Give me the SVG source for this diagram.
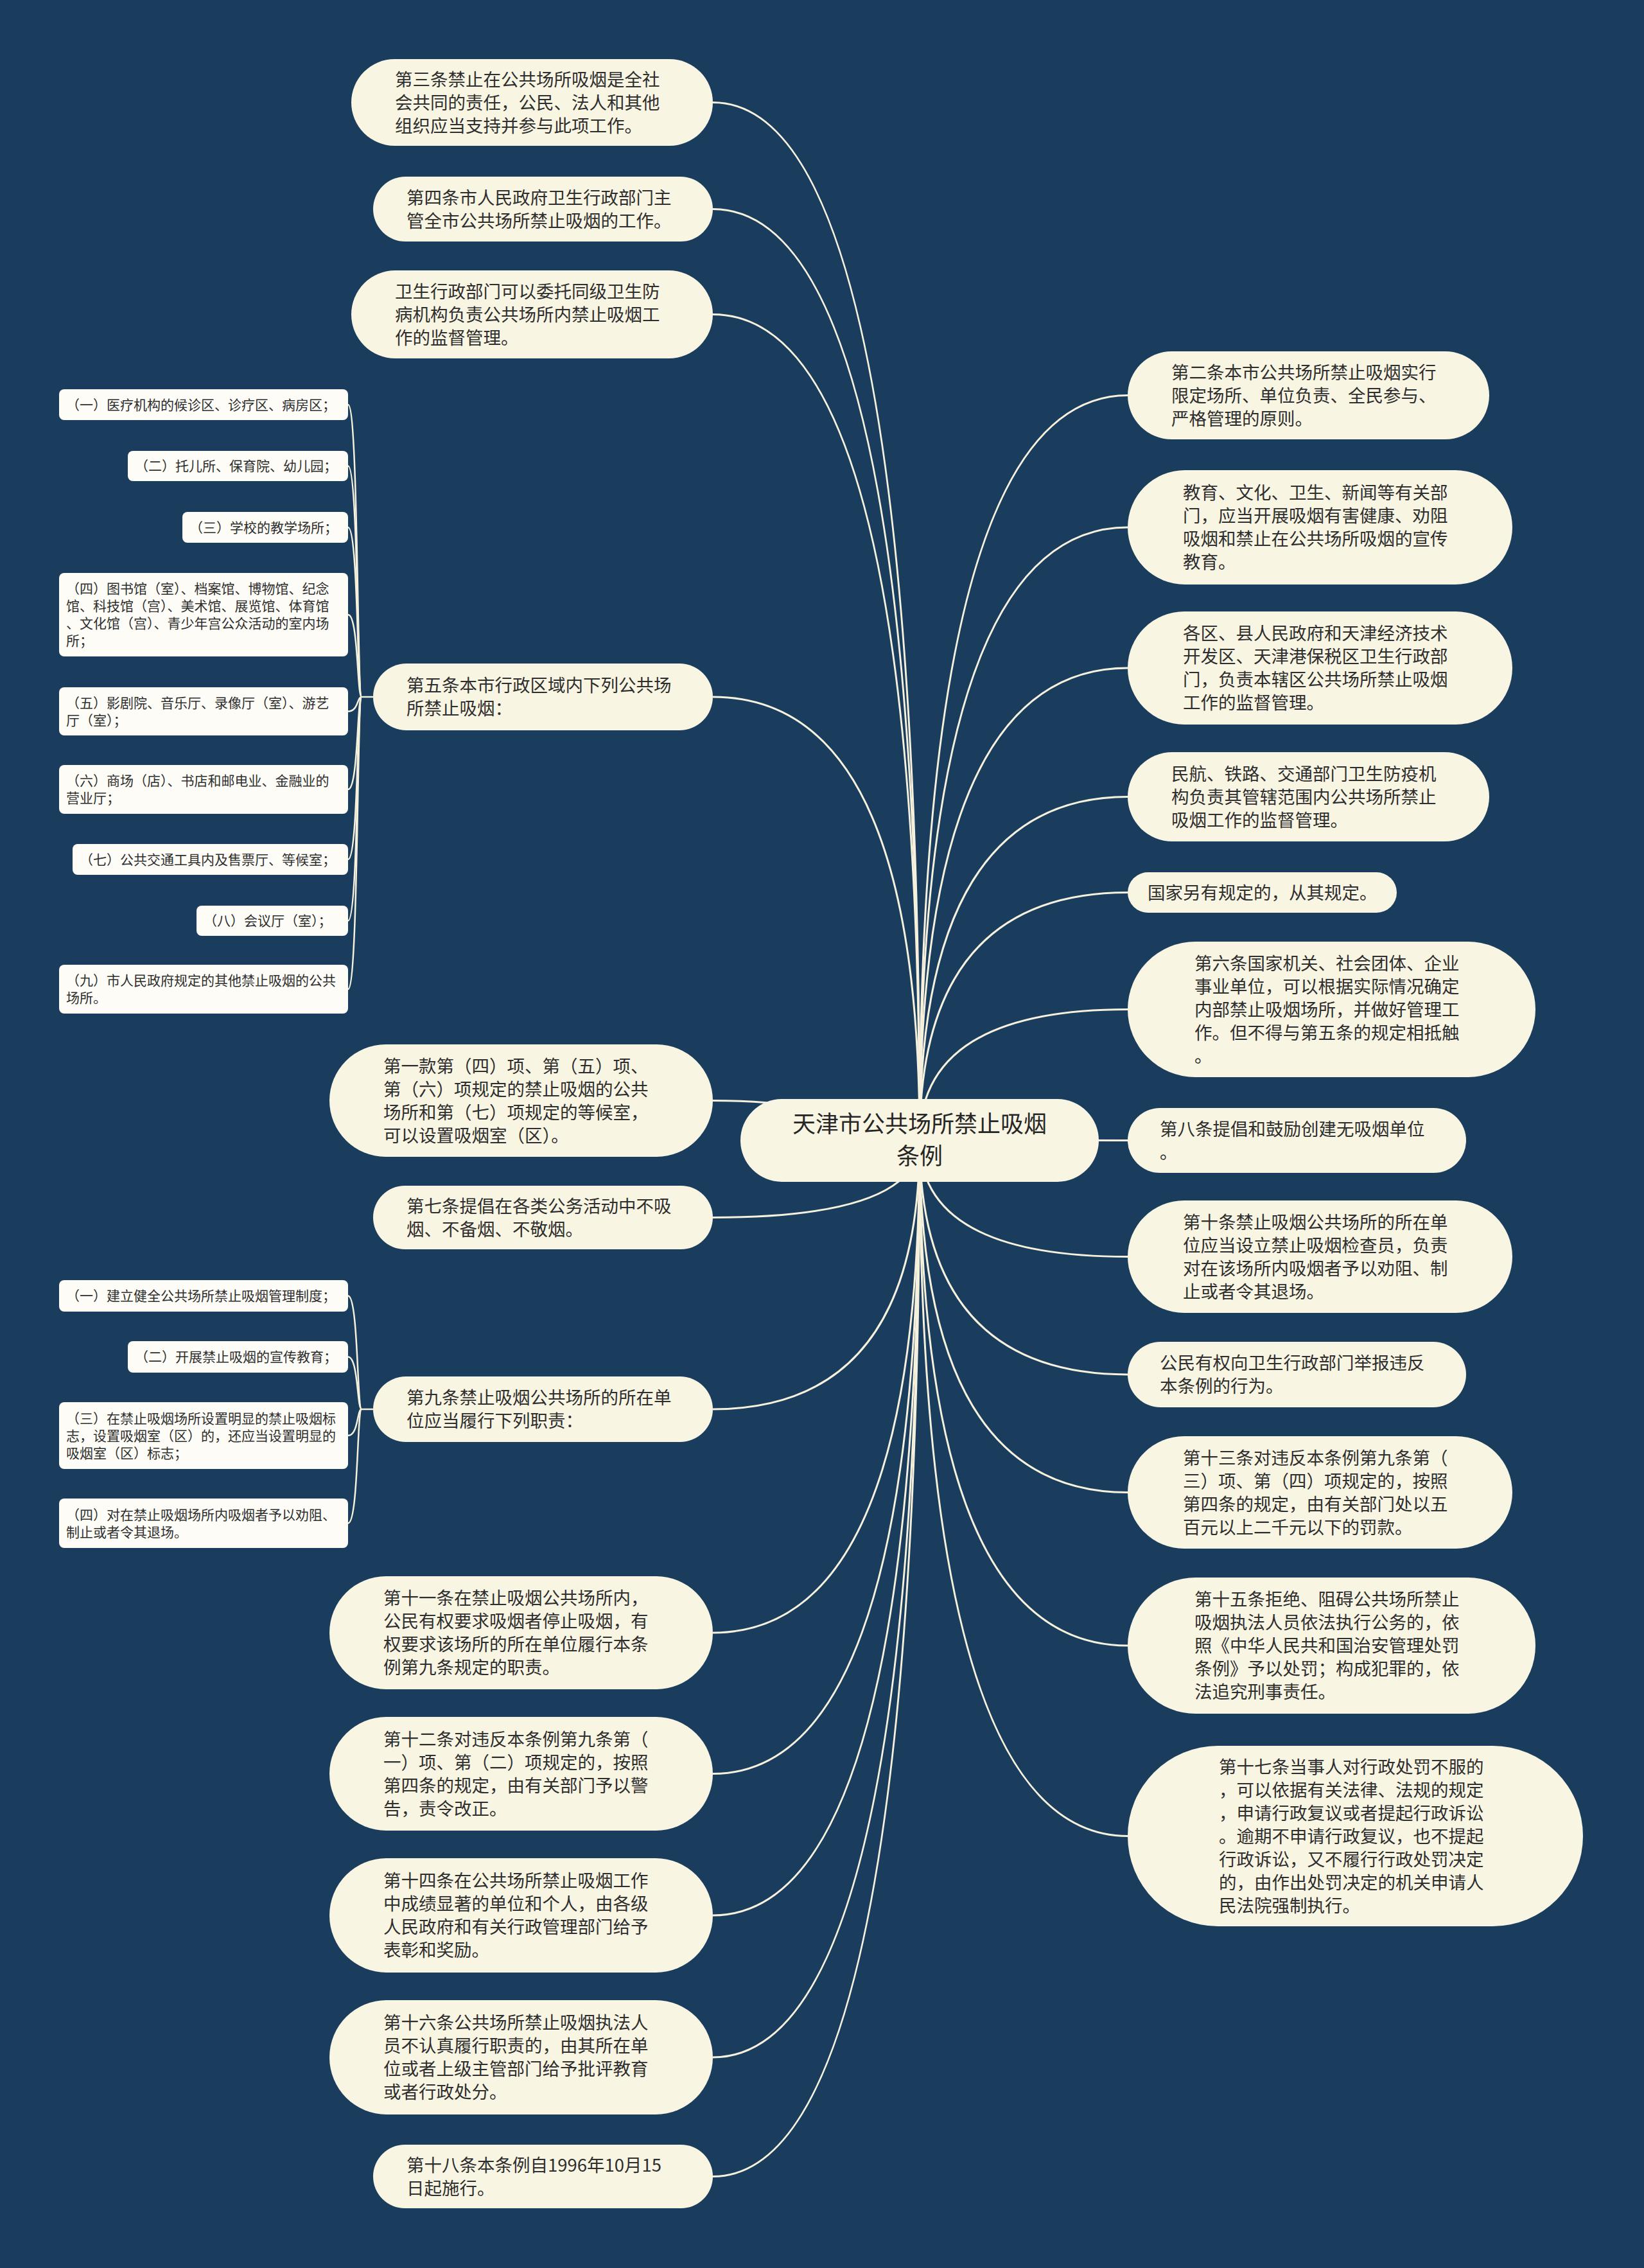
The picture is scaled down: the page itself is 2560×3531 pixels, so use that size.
<svg xmlns="http://www.w3.org/2000/svg" width="2560" height="3531" viewBox="0 0 2560 3531">
<style>
.bg{fill:#1a3d5e}
.n{fill:#f9f5e3}
.s{fill:#fdfcf6}
.t{font-family:"Noto Sans CJK SC","Noto Sans",sans-serif;font-size:27.5px;fill:#2e2e2e}
.st{font-family:"Noto Sans CJK SC","Noto Sans",sans-serif;font-size:21px;fill:#2e2e2e}
.ct{font-family:"Noto Sans CJK SC","Noto Sans",sans-serif;font-size:36px;fill:#262626;text-anchor:middle}
.l{fill:none;stroke:#f6f1dc;stroke-width:3}
.b{fill:none;stroke:#f6f1dc;stroke-width:2.5}
</style>
<rect class="bg" x="0" y="0" width="2560" height="3531"/>
<g id="connectors">
<path class="l" d="M1432 1775 Q1432 159.5 1110 159.5"/>
<path class="l" d="M1432 1775 Q1432 325.5 1110 325.5"/>
<path class="l" d="M1432 1775 Q1432 489.5 1110 489.5"/>
<path class="l" d="M1432 1775 Q1432 1085 1110 1085"/>
<path class="l" d="M1432 1775 Q1300 1713.5 1110 1713.5"/>
<path class="l" d="M1432 1775 Q1432 1895.5 1110 1895.5"/>
<path class="l" d="M1432 1775 Q1432 2194 1110 2194"/>
<path class="l" d="M1432 1775 Q1432 2542 1110 2542"/>
<path class="l" d="M1432 1775 Q1432 2761.5 1110 2761.5"/>
<path class="l" d="M1432 1775 Q1432 2982 1110 2982"/>
<path class="l" d="M1432 1775 Q1432 3203 1110 3203"/>
<path class="l" d="M1432 1775 Q1432 3388.5 1110 3388.5"/>
<path class="l" d="M1432 1775 Q1432 615.5 1756 615.5"/>
<path class="l" d="M1432 1775 Q1432 821 1756 821"/>
<path class="l" d="M1432 1775 Q1432 1040 1756 1040"/>
<path class="l" d="M1432 1775 Q1432 1240.5 1756 1240.5"/>
<path class="l" d="M1432 1775 Q1432 1389.5 1756 1389.5"/>
<path class="l" d="M1432 1775 Q1432 1571.5 1756 1571.5"/>
<path class="l" d="M1432 1775 L1756 1775.5"/>
<path class="l" d="M1432 1775 Q1432 1956.5 1756 1956.5"/>
<path class="l" d="M1432 1775 Q1432 2140 1756 2140"/>
<path class="l" d="M1432 1775 Q1432 2323.5 1756 2323.5"/>
<path class="l" d="M1432 1775 Q1432 2562 1756 2562"/>
<path class="l" d="M1432 1775 Q1432 2858.5 1756 2858.5"/>
<path class="b" d="M581 1085 L563 1085"/>
<path class="b" d="M542 630 C558 630 556 1085 563 1085"/>
<path class="b" d="M542 725.5 C558 725.5 556 1085 563 1085"/>
<path class="b" d="M542 821 C558 821 556 1085 563 1085"/>
<path class="b" d="M542 957 C558 957 556 1085 563 1085"/>
<path class="b" d="M542 1107.5 C558 1107.5 556 1085 563 1085"/>
<path class="b" d="M542 1229 C558 1229 556 1085 563 1085"/>
<path class="b" d="M542 1338 C558 1338 556 1085 563 1085"/>
<path class="b" d="M542 1433.5 C558 1433.5 556 1085 563 1085"/>
<path class="b" d="M542 1540 C558 1540 556 1085 563 1085"/>
<path class="b" d="M581 2194 L563 2194"/>
<path class="b" d="M542 2017.5 C558 2017.5 556 2194 563 2194"/>
<path class="b" d="M542 2112.5 C558 2112.5 556 2194 563 2194"/>
<path class="b" d="M542 2235 C558 2235 556 2194 563 2194"/>
<path class="b" d="M542 2371.5 C558 2371.5 556 2194 563 2194"/>
</g>
<g id="root">
<rect class="n" x="1153" y="1711" width="558" height="129" rx="64.5"/>
<text class="ct" x="1432" y="1763">天津市公共场所禁止吸烟</text>
<text class="ct" x="1432" y="1813">条例</text>
</g>
<g id="L1"><rect class="n" x="547" y="92" width="563" height="135" rx="67.5"/>
<text class="t" x="615" y="133.5">第三条禁止在公共场所吸烟是全社</text>
<text class="t" x="615" y="169.5">会共同的责任，公民、法人和其他</text>
<text class="t" x="615" y="205.5">组织应当支持并参与此项工作。</text></g>
<g id="L2"><rect class="n" x="581" y="275" width="529" height="101" rx="50.5"/>
<text class="t" x="633" y="317.5">第四条市人民政府卫生行政部门主</text>
<text class="t" x="633" y="353.5">管全市公共场所禁止吸烟的工作。</text></g>
<g id="L3"><rect class="n" x="547" y="421" width="563" height="137" rx="68.5"/>
<text class="t" x="615" y="463.5">卫生行政部门可以委托同级卫生防</text>
<text class="t" x="615" y="499.5">病机构负责公共场所内禁止吸烟工</text>
<text class="t" x="615" y="535.5">作的监督管理。</text></g>
<g id="L4"><rect class="n" x="581" y="1033" width="529" height="104" rx="52"/>
<text class="t" x="633" y="1077">第五条本市行政区域内下列公共场</text>
<text class="t" x="633" y="1113">所禁止吸烟：</text></g>
<g id="L5"><rect class="n" x="513" y="1626" width="597" height="175" rx="87.5"/>
<text class="t" x="597" y="1669.5">第一款第（四）项、第（五）项、</text>
<text class="t" x="597" y="1705.5">第（六）项规定的禁止吸烟的公共</text>
<text class="t" x="597" y="1741.5">场所和第（七）项规定的等候室，</text>
<text class="t" x="597" y="1777.5">可以设置吸烟室（区）。</text></g>
<g id="L6"><rect class="n" x="581" y="1846" width="529" height="99" rx="49.5"/>
<text class="t" x="633" y="1887.5">第七条提倡在各类公务活动中不吸</text>
<text class="t" x="633" y="1923.5">烟、不备烟、不敬烟。</text></g>
<g id="L7"><rect class="n" x="581" y="2143" width="529" height="102" rx="51"/>
<text class="t" x="633" y="2186">第九条禁止吸烟公共场所的所在单</text>
<text class="t" x="633" y="2222">位应当履行下列职责：</text></g>
<g id="L8"><rect class="n" x="513" y="2454" width="597" height="176" rx="88"/>
<text class="t" x="597" y="2498">第十一条在禁止吸烟公共场所内，</text>
<text class="t" x="597" y="2534">公民有权要求吸烟者停止吸烟，有</text>
<text class="t" x="597" y="2570">权要求该场所的所在单位履行本条</text>
<text class="t" x="597" y="2606">例第九条规定的职责。</text></g>
<g id="L9"><rect class="n" x="513" y="2673" width="597" height="177" rx="88.5"/>
<text class="t" x="597" y="2717.5">第十二条对违反本条例第九条第（</text>
<text class="t" x="597" y="2753.5">一）项、第（二）项规定的，按照</text>
<text class="t" x="597" y="2789.5">第四条的规定，由有关部门予以警</text>
<text class="t" x="597" y="2825.5">告，责令改正。</text></g>
<g id="L10"><rect class="n" x="513" y="2893" width="597" height="178" rx="89"/>
<text class="t" x="597" y="2938">第十四条在公共场所禁止吸烟工作</text>
<text class="t" x="597" y="2974">中成绩显著的单位和个人，由各级</text>
<text class="t" x="597" y="3010">人民政府和有关行政管理部门给予</text>
<text class="t" x="597" y="3046">表彰和奖励。</text></g>
<g id="L11"><rect class="n" x="513" y="3114" width="597" height="178" rx="89"/>
<text class="t" x="597" y="3159">第十六条公共场所禁止吸烟执法人</text>
<text class="t" x="597" y="3195">员不认真履行职责的，由其所在单</text>
<text class="t" x="597" y="3231">位或者上级主管部门给予批评教育</text>
<text class="t" x="597" y="3267">或者行政处分。</text></g>
<g id="L12"><rect class="n" x="581" y="3339" width="529" height="99" rx="49.5"/>
<text class="t" x="633" y="3380.5">第十八条本条例自1996年10月15</text>
<text class="t" x="633" y="3416.5">日起施行。</text></g>
<g id="R1"><rect class="n" x="1756" y="547" width="563" height="137" rx="68.5"/>
<text class="t" x="1824" y="589.5">第二条本市公共场所禁止吸烟实行</text>
<text class="t" x="1824" y="625.5">限定场所、单位负责、全民参与、</text>
<text class="t" x="1824" y="661.5">严格管理的原则。</text></g>
<g id="R2"><rect class="n" x="1756" y="732" width="599" height="178" rx="89"/>
<text class="t" x="1842" y="777">教育、文化、卫生、新闻等有关部</text>
<text class="t" x="1842" y="813">门，应当开展吸烟有害健康、劝阻</text>
<text class="t" x="1842" y="849">吸烟和禁止在公共场所吸烟的宣传</text>
<text class="t" x="1842" y="885">教育。</text></g>
<g id="R3"><rect class="n" x="1756" y="952" width="599" height="176" rx="88"/>
<text class="t" x="1842" y="996">各区、县人民政府和天津经济技术</text>
<text class="t" x="1842" y="1032">开发区、天津港保税区卫生行政部</text>
<text class="t" x="1842" y="1068">门，负责本辖区公共场所禁止吸烟</text>
<text class="t" x="1842" y="1104">工作的监督管理。</text></g>
<g id="R4"><rect class="n" x="1756" y="1171" width="563" height="139" rx="69.5"/>
<text class="t" x="1824" y="1214.5">民航、铁路、交通部门卫生防疫机</text>
<text class="t" x="1824" y="1250.5">构负责其管辖范围内公共场所禁止</text>
<text class="t" x="1824" y="1286.5">吸烟工作的监督管理。</text></g>
<g id="R5"><rect class="n" x="1756" y="1358" width="419" height="63" rx="31.5"/>
<text class="t" x="1787" y="1399.5">国家另有规定的，从其规定。</text></g>
<g id="R6"><rect class="n" x="1756" y="1466" width="635" height="211" rx="105.5"/>
<text class="t" x="1860" y="1509.5">第六条国家机关、社会团体、企业</text>
<text class="t" x="1860" y="1545.5">事业单位，可以根据实际情况确定</text>
<text class="t" x="1860" y="1581.5">内部禁止吸烟场所，并做好管理工</text>
<text class="t" x="1860" y="1617.5">作。但不得与第五条的规定相抵触</text>
<text class="t" x="1860" y="1653.5">。</text></g>
<g id="R7"><rect class="n" x="1756" y="1725" width="527" height="101" rx="50.5"/>
<text class="t" x="1806" y="1767.5">第八条提倡和鼓励创建无吸烟单位</text>
<text class="t" x="1806" y="1803.5">。</text></g>
<g id="R8"><rect class="n" x="1756" y="1869" width="599" height="175" rx="87.5"/>
<text class="t" x="1842" y="1912.5">第十条禁止吸烟公共场所的所在单</text>
<text class="t" x="1842" y="1948.5">位应当设立禁止吸烟检查员，负责</text>
<text class="t" x="1842" y="1984.5">对在该场所内吸烟者予以劝阻、制</text>
<text class="t" x="1842" y="2020.5">止或者令其退场。</text></g>
<g id="R9"><rect class="n" x="1756" y="2089" width="527" height="102" rx="51"/>
<text class="t" x="1806" y="2132">公民有权向卫生行政部门举报违反</text>
<text class="t" x="1806" y="2168">本条例的行为。</text></g>
<g id="R10"><rect class="n" x="1756" y="2236" width="599" height="175" rx="87.5"/>
<text class="t" x="1842" y="2279.5">第十三条对违反本条例第九条第（</text>
<text class="t" x="1842" y="2315.5">三）项、第（四）项规定的，按照</text>
<text class="t" x="1842" y="2351.5">第四条的规定，由有关部门处以五</text>
<text class="t" x="1842" y="2387.5">百元以上二千元以下的罚款。</text></g>
<g id="R11"><rect class="n" x="1756" y="2456" width="635" height="212" rx="106"/>
<text class="t" x="1860" y="2500">第十五条拒绝、阻碍公共场所禁止</text>
<text class="t" x="1860" y="2536">吸烟执法人员依法执行公务的，依</text>
<text class="t" x="1860" y="2572">照《中华人民共和国治安管理处罚</text>
<text class="t" x="1860" y="2608">条例》予以处罚；构成犯罪的，依</text>
<text class="t" x="1860" y="2644">法追究刑事责任。</text></g>
<g id="R12"><rect class="n" x="1756" y="2718" width="709" height="281" rx="140.5"/>
<text class="t" x="1898" y="2760.5">第十七条当事人对行政处罚不服的</text>
<text class="t" x="1898" y="2796.5">，可以依据有关法律、法规的规定</text>
<text class="t" x="1898" y="2832.5">，申请行政复议或者提起行政诉讼</text>
<text class="t" x="1898" y="2868.5">。逾期不申请行政复议，也不提起</text>
<text class="t" x="1898" y="2904.5">行政诉讼，又不履行行政处罚决定</text>
<text class="t" x="1898" y="2940.5">的，由作出处罚决定的机关申请人</text>
<text class="t" x="1898" y="2976.5">民法院强制执行。</text></g>
<g id="S1"><rect class="s" x="92" y="606" width="450" height="48" rx="8"/>
<text class="st" x="103" y="637.7">（一）医疗机构的候诊区、诊疗区、病房区；</text></g>
<g id="S2"><rect class="s" x="199" y="702" width="343" height="47" rx="8"/>
<text class="st" x="210" y="733">（二）托儿所、保育院、幼儿园；</text></g>
<g id="S3"><rect class="s" x="284" y="797" width="258" height="48" rx="8"/>
<text class="st" x="295" y="828.7">（三）学校的教学场所；</text></g>
<g id="S4"><rect class="s" x="92" y="892" width="450" height="130" rx="8"/>
<text class="st" x="103" y="924">（四）图书馆（室）、档案馆、博物馆、纪念</text>
<text class="st" x="103" y="951">馆、科技馆（宫）、美术馆、展览馆、体育馆</text>
<text class="st" x="103" y="978">、文化馆（宫）、青少年宫公众活动的室内场</text>
<text class="st" x="103" y="1005">所；</text></g>
<g id="S5"><rect class="s" x="92" y="1070" width="450" height="75" rx="8"/>
<text class="st" x="103" y="1101.7">（五）影剧院、音乐厅、录像厅（室）、游艺</text>
<text class="st" x="103" y="1128.7">厅（室）；</text></g>
<g id="S6"><rect class="s" x="92" y="1191" width="450" height="76" rx="8"/>
<text class="st" x="103" y="1223">（六）商场（店）、书店和邮电业、金融业的</text>
<text class="st" x="103" y="1250">营业厅；</text></g>
<g id="S7"><rect class="s" x="113" y="1314" width="429" height="48" rx="8"/>
<text class="st" x="124" y="1345.7">（七）公共交通工具内及售票厅、等候室；</text></g>
<g id="S8"><rect class="s" x="306" y="1410" width="236" height="47" rx="8"/>
<text class="st" x="317" y="1441">（八）会议厅（室）；</text></g>
<g id="S9"><rect class="s" x="92" y="1502" width="450" height="76" rx="8"/>
<text class="st" x="103" y="1534">（九）市人民政府规定的其他禁止吸烟的公共</text>
<text class="st" x="103" y="1561">场所。</text></g>
<g id="T1"><rect class="s" x="92" y="1993" width="450" height="49" rx="8"/>
<text class="st" x="103" y="2025">（一）建立健全公共场所禁止吸烟管理制度；</text></g>
<g id="T2"><rect class="s" x="199" y="2088" width="343" height="49" rx="8"/>
<text class="st" x="210" y="2120">（二）开展禁止吸烟的宣传教育；</text></g>
<g id="T3"><rect class="s" x="92" y="2183" width="450" height="104" rx="8"/>
<text class="st" x="103" y="2215.7">（三）在禁止吸烟场所设置明显的禁止吸烟标</text>
<text class="st" x="103" y="2242.7">志，设置吸烟室（区）的，还应当设置明显的</text>
<text class="st" x="103" y="2269.7">吸烟室（区）标志；</text></g>
<g id="T4"><rect class="s" x="92" y="2333" width="450" height="77" rx="8"/>
<text class="st" x="103" y="2365.7">（四）对在禁止吸烟场所内吸烟者予以劝阻、</text>
<text class="st" x="103" y="2392.7">制止或者令其退场。</text></g>
</svg>
